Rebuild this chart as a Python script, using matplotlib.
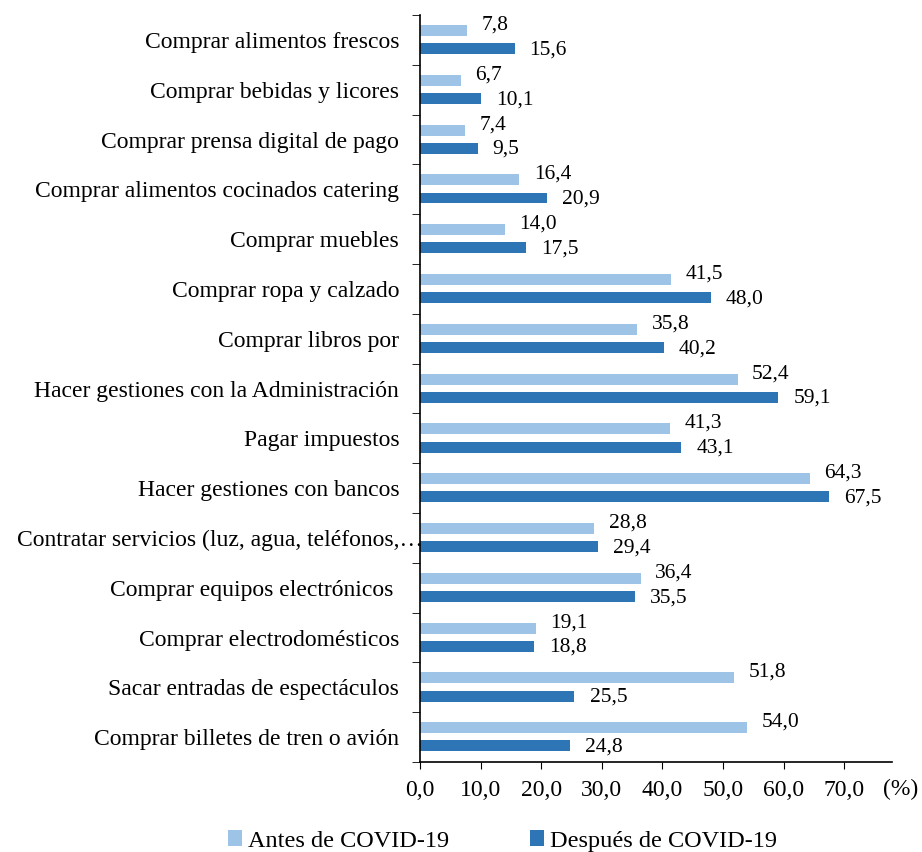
import numpy as np
import matplotlib.pyplot as plt
from matplotlib.transforms import ScaledTranslation

plt.rcParams['font.family'] = ['Liberation Serif', 'DejaVu Serif']

categorias = [
    "Comprar alimentos frescos",
    "Comprar bebidas y licores",
    "Comprar prensa digital de pago",
    "Comprar alimentos cocinados catering",
    "Comprar muebles",
    "Comprar ropa y calzado",
    "Comprar libros por",
    "Hacer gestiones con la Administración",
    "Pagar impuestos",
    "Hacer gestiones con bancos",
    "Contratar servicios (luz, agua, teléfonos,\u2026",
    "Comprar equipos electrónicos ",
    "Comprar electrodomésticos",
    "Sacar entradas de espectáculos",
    "Comprar billetes de tren o avión",
]
antes = [7.8, 6.7, 7.4, 16.4, 14.0, 41.5, 35.8, 52.4, 41.3, 64.3, 28.8, 36.4, 19.1, 51.8, 54.0]
despues = [15.6, 10.1, 9.5, 20.9, 17.5, 48.0, 40.2, 59.1, 43.1, 67.5, 29.4, 35.5, 18.8, 25.5, 24.8]

c_antes = '#9DC3E6'
c_desp = '#2E75B6'

fig = plt.figure(figsize=(9.22, 8.52), dpi=100)
ax = fig.add_axes([0.4555, 0.1056, 0.512, 0.8768])

y = np.arange(len(categorias))
h = 0.22
ax.barh(y - 0.19, antes, height=h, color=c_antes, label='Antes de COVID-19')
ax.barh(y + 0.175, despues, height=h, color=c_desp, label='Después de COVID-19')

fs_val = 15.5
for yi, a, d in zip(y, antes, despues):
    ax.text(a + 2.4, yi - 0.3, f"{a:.1f}".replace('.', ','), va='center', ha='left', fontsize=fs_val)
    ax.text(d + 2.5, yi + 0.2, f"{d:.1f}".replace('.', ','), va='center', ha='left', fontsize=fs_val)

ax.set_ylim(len(categorias) - 0.5, -0.5)
ax.set_xlim(0, 77.9)
ax.set_yticks(y)
ax.set_yticklabels(categorias, fontsize=17)
ax.set_yticks(np.arange(len(categorias) + 1) - 0.5, minor=True)
ax.tick_params(axis='y', which='major', length=0, pad=15)
ax.tick_params(axis='y', which='minor', length=6, direction='out')
ax.set_xticks(np.arange(0, 80, 10))
ax.set_xticklabels([f"{v:.1f}".replace('.', ',') for v in np.arange(0, 80, 10)], fontsize=17)
ax.tick_params(axis='x', length=5, direction='out', pad=8)

# la etiqueta larga sobresale hacia el eje, como en el original
lab = ax.get_yticklabels()[10]
lab.set_transform(lab.get_transform() + ScaledTranslation(17 / 72, 0, fig.dpi_scale_trans))

for s in ['top', 'right']:
    ax.spines[s].set_visible(False)
for s in ['left', 'bottom']:
    ax.spines[s].set_linewidth(1.2)

ax.text(79.4, -0.037, '(%)', transform=ax.get_xaxis_transform(), fontsize=17,
        ha='center', va='center', clip_on=False)

fig.legend(loc='center', bbox_to_anchor=(0.545, 0.013), ncol=2, frameon=False,
           fontsize=17.5, handlelength=0.6, handleheight=0.6, handletextpad=0.25,
           columnspacing=3.3)

fig.savefig('out.png', dpi=100)
